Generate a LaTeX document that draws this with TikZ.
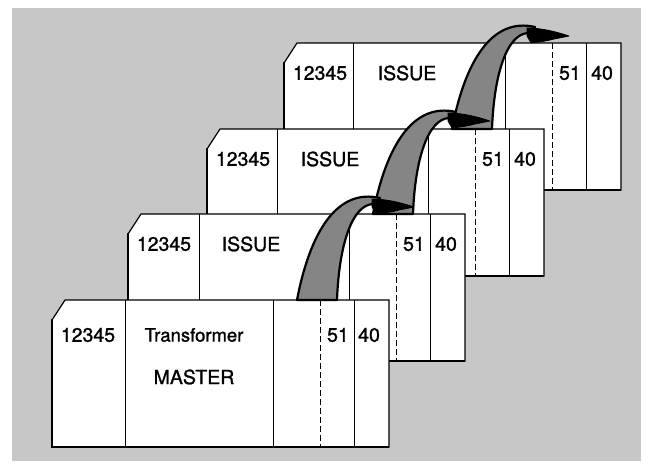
\documentclass[tikz,border=0pt]{standalone}
\usepackage{fontspec}
\setmainfont{TeX Gyre Heros}[FakeBold=1.2]
\tikzset{
  bgfill/.style={fill=black!22},
  cardbox/.style={draw=black, line width=1.2pt, line join=miter},
  cardedge/.style={draw=black, line width=2.6pt, line cap=butt, line join=miter},
  divider/.style={draw=black, line width=1pt},
  dashdiv/.style={draw=black, line width=1pt, dash pattern=on 6pt off 3pt},
  lbl/.style={font=\fontsize{19.5}{22}\selectfont, inner sep=0pt, text=black},
  smalllbl/.style={font=\fontsize{18.5}{22}\selectfont, inner sep=0pt, text=black},
  ribbon/.style={fill=black!48, draw=black, line width=2.2pt, line join=round},
  arrowhd/.style={fill=black, draw=black, line width=0.8pt, line join=round},
}
% #1 = left, #2 = top, #3 = first divider offset
\newcommand\cardshape[3]{%
  \begin{scope}[shift={(#1,#2)}]
    \fill[white] (0,20) -- (13,0) -- (337,0) -- (337,147) -- (0,147) -- cycle;
    \draw[divider] (#3,0) -- (#3,147) (221,0) -- (221,147) (302,0) -- (302,147);
    \draw[dashdiv] (268,0) -- (268,147);
    \draw[cardbox] (0,20) -- (13,0) -- (337,0) -- (337,147) -- (0,147) -- cycle;
    \draw[cardedge] (0,19) -- (0,147) -- (337,147);
  \end{scope}}
% #1 = name, #2 = left, #3 = top
\newcommand\issuetext[3]{%
  \begin{scope}[shift={(#2,#3)}]
    \node[lbl] (#1id) at (36,30) {12345};
    \node[lbl] (#1title) at (123,30) {ISSUE};
    \node[lbl, anchor=east] (#1a) at (297,30) {51};
    \node[lbl, anchor=west] (#1b) at (307,30) {40};
  \end{scope}}
% #1 = left, #2 = top of the card the arrow starts from
\newcommand\ribbonarrow[2]{%
  \begin{scope}[shift={(#1,#2)}]
    \draw[ribbon] (245,0) .. controls (258,-68) and (285,-112) .. (328,-102)
      -- (321,-96) .. controls (300,-95) and (287,-55) .. (285,0) -- cycle;
    \draw[arrowhd] (320,-101) .. controls (335,-101) and (350,-97) .. (362,-93)
      -- (347,-90) .. controls (340,-88) and (332,-87) .. (324,-86)
      -- (320,-93) -- cycle;
  \end{scope}}
\begin{document}
\begin{tikzpicture}[x=1pt, y=-1pt]
  \useasboundingbox (0,0) rectangle (653,469);
  \fill[bgfill] (12,8) rectangle (641,461);
  % back cards
  \cardshape{284}{43}{69}
  \issuetext{c4}{284}{43}
  \cardshape{207}{129}{70}
  \issuetext{c3}{207}{129}
  \cardshape{128}{214}{71}
  \issuetext{c2}{128}{214}
  % master card
  \cardshape{52}{300}{73}
  \begin{scope}[shift={(52,300)}]
    \node[lbl] (c1id) at (36,35) {12345};
    \node[smalllbl] (c1sub) at (142,35) {Transformer};
    \node[lbl] (c1title) at (142,77) {MASTER};
    \node[lbl, anchor=east] (c1a) at (297,35) {51};
    \node[lbl, anchor=west] (c1b) at (306,35) {40};
  \end{scope}
  % ribbon arrows
  \ribbonarrow{207}{129}
  \ribbonarrow{128}{214}
  \ribbonarrow{52}{300}
\end{tikzpicture}
\end{document}
